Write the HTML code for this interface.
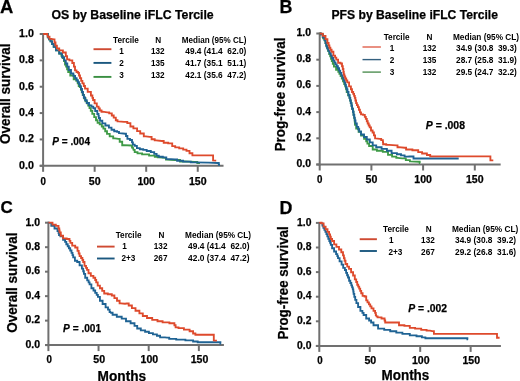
<!DOCTYPE html>
<html><head><meta charset="utf-8"><style>
html,body{margin:0;padding:0;background:#fff;}
body{width:520px;height:381px;overflow:hidden;}
svg{display:block;filter:blur(0.3px);}
</style></head><body>
<svg width="520" height="381" viewBox="0 0 520 381">
<g font-family='"Liberation Sans", sans-serif' fill="#000" stroke="#000" stroke-width="0.25">
<text x="-0.10" y="12.60" font-size="18" font-weight="bold" textLength="13.3" lengthAdjust="spacingAndGlyphs">A</text>
<text x="279.40" y="12.80" font-size="17.8" font-weight="bold" textLength="12.9" lengthAdjust="spacingAndGlyphs">B</text>
<text x="0.50" y="213.30" font-size="17" font-weight="bold">C</text>
<text x="279.40" y="213.60" font-size="17.8" font-weight="bold" textLength="12.9" lengthAdjust="spacingAndGlyphs">D</text>
<text x="51.40" y="18.50" font-size="12" font-weight="bold" textLength="162.3" lengthAdjust="spacingAndGlyphs">OS by Baseline iFLC Tercile</text>
<text x="331.50" y="18.50" font-size="12" font-weight="bold" textLength="166.5" lengthAdjust="spacingAndGlyphs">PFS by Baseline iFLC Tercile</text>
<line x1="43.10" y1="33.00" x2="43.10" y2="166.80" stroke="#707070" stroke-width="2.0"/>
<line x1="39.70" y1="165.80" x2="223.52" y2="165.80" stroke="#707070" stroke-width="2.0"/>
<line x1="39.70" y1="165.80" x2="43.10" y2="165.80" stroke="#707070" stroke-width="2.0"/>
<text x="19.10" y="168.60" font-size="10" font-weight="bold" textLength="14.8" lengthAdjust="spacingAndGlyphs">0.0</text>
<line x1="39.70" y1="139.44" x2="43.10" y2="139.44" stroke="#707070" stroke-width="2.0"/>
<text x="19.10" y="142.24" font-size="10" font-weight="bold" textLength="14.8" lengthAdjust="spacingAndGlyphs">0.2</text>
<line x1="39.70" y1="113.08" x2="43.10" y2="113.08" stroke="#707070" stroke-width="2.0"/>
<text x="19.10" y="115.88" font-size="10" font-weight="bold" textLength="14.8" lengthAdjust="spacingAndGlyphs">0.4</text>
<line x1="39.70" y1="86.72" x2="43.10" y2="86.72" stroke="#707070" stroke-width="2.0"/>
<text x="19.10" y="89.52" font-size="10" font-weight="bold" textLength="14.8" lengthAdjust="spacingAndGlyphs">0.6</text>
<line x1="39.70" y1="60.36" x2="43.10" y2="60.36" stroke="#707070" stroke-width="2.0"/>
<text x="19.10" y="63.16" font-size="10" font-weight="bold" textLength="14.8" lengthAdjust="spacingAndGlyphs">0.8</text>
<line x1="39.70" y1="34.00" x2="43.10" y2="34.00" stroke="#707070" stroke-width="2.0"/>
<text x="19.10" y="36.80" font-size="10" font-weight="bold" textLength="14.8" lengthAdjust="spacingAndGlyphs">1.0</text>
<line x1="43.10" y1="165.80" x2="43.10" y2="171.80" stroke="#707070" stroke-width="2.0"/>
<text x="40.40" y="184.60" font-size="10" font-weight="bold" textLength="5.4" lengthAdjust="spacingAndGlyphs">0</text>
<line x1="94.65" y1="165.80" x2="94.65" y2="171.80" stroke="#707070" stroke-width="2.0"/>
<text x="88.75" y="184.60" font-size="10" font-weight="bold" textLength="11.8" lengthAdjust="spacingAndGlyphs">50</text>
<line x1="146.20" y1="165.80" x2="146.20" y2="171.80" stroke="#707070" stroke-width="2.0"/>
<text x="137.40" y="184.60" font-size="10" font-weight="bold" textLength="17.6" lengthAdjust="spacingAndGlyphs">100</text>
<line x1="197.75" y1="165.80" x2="197.75" y2="171.80" stroke="#707070" stroke-width="2.0"/>
<text x="188.95" y="184.60" font-size="10" font-weight="bold" textLength="17.6" lengthAdjust="spacingAndGlyphs">150</text>
<line x1="319.70" y1="32.50" x2="319.70" y2="165.50" stroke="#707070" stroke-width="2.0"/>
<line x1="316.30" y1="164.50" x2="500.65" y2="164.50" stroke="#707070" stroke-width="2.0"/>
<line x1="316.30" y1="164.50" x2="319.70" y2="164.50" stroke="#707070" stroke-width="2.0"/>
<text x="296.50" y="166.90" font-size="10" font-weight="bold" textLength="14.5" lengthAdjust="spacingAndGlyphs">0.0</text>
<line x1="316.30" y1="138.30" x2="319.70" y2="138.30" stroke="#707070" stroke-width="2.0"/>
<text x="296.50" y="140.70" font-size="10" font-weight="bold" textLength="14.5" lengthAdjust="spacingAndGlyphs">0.2</text>
<line x1="316.30" y1="112.10" x2="319.70" y2="112.10" stroke="#707070" stroke-width="2.0"/>
<text x="296.50" y="114.50" font-size="10" font-weight="bold" textLength="14.5" lengthAdjust="spacingAndGlyphs">0.4</text>
<line x1="316.30" y1="85.90" x2="319.70" y2="85.90" stroke="#707070" stroke-width="2.0"/>
<text x="296.50" y="88.30" font-size="10" font-weight="bold" textLength="14.5" lengthAdjust="spacingAndGlyphs">0.6</text>
<line x1="316.30" y1="59.70" x2="319.70" y2="59.70" stroke="#707070" stroke-width="2.0"/>
<text x="296.50" y="62.10" font-size="10" font-weight="bold" textLength="14.5" lengthAdjust="spacingAndGlyphs">0.8</text>
<line x1="316.30" y1="33.50" x2="319.70" y2="33.50" stroke="#707070" stroke-width="2.0"/>
<text x="296.50" y="35.90" font-size="10" font-weight="bold" textLength="14.5" lengthAdjust="spacingAndGlyphs">1.0</text>
<line x1="319.70" y1="164.50" x2="319.70" y2="170.50" stroke="#707070" stroke-width="2.0"/>
<text x="317.00" y="183.00" font-size="10" font-weight="bold" textLength="5.4" lengthAdjust="spacingAndGlyphs">0</text>
<line x1="371.40" y1="164.50" x2="371.40" y2="170.50" stroke="#707070" stroke-width="2.0"/>
<text x="365.50" y="183.00" font-size="10" font-weight="bold" textLength="11.8" lengthAdjust="spacingAndGlyphs">50</text>
<line x1="423.10" y1="164.50" x2="423.10" y2="170.50" stroke="#707070" stroke-width="2.0"/>
<text x="414.30" y="183.00" font-size="10" font-weight="bold" textLength="17.6" lengthAdjust="spacingAndGlyphs">100</text>
<line x1="474.80" y1="164.50" x2="474.80" y2="170.50" stroke="#707070" stroke-width="2.0"/>
<text x="466.00" y="183.00" font-size="10" font-weight="bold" textLength="17.6" lengthAdjust="spacingAndGlyphs">150</text>
<line x1="48.40" y1="221.70" x2="48.40" y2="346.10" stroke="#707070" stroke-width="2.0"/>
<line x1="45.00" y1="345.10" x2="223.92" y2="345.10" stroke="#707070" stroke-width="2.0"/>
<line x1="45.00" y1="345.10" x2="48.40" y2="345.10" stroke="#707070" stroke-width="2.0"/>
<text x="25.50" y="347.90" font-size="10" font-weight="bold" textLength="14.6" lengthAdjust="spacingAndGlyphs">0.0</text>
<line x1="45.00" y1="320.62" x2="48.40" y2="320.62" stroke="#707070" stroke-width="2.0"/>
<text x="25.50" y="323.42" font-size="10" font-weight="bold" textLength="14.6" lengthAdjust="spacingAndGlyphs">0.2</text>
<line x1="45.00" y1="296.14" x2="48.40" y2="296.14" stroke="#707070" stroke-width="2.0"/>
<text x="25.50" y="298.94" font-size="10" font-weight="bold" textLength="14.6" lengthAdjust="spacingAndGlyphs">0.4</text>
<line x1="45.00" y1="271.66" x2="48.40" y2="271.66" stroke="#707070" stroke-width="2.0"/>
<text x="25.50" y="274.46" font-size="10" font-weight="bold" textLength="14.6" lengthAdjust="spacingAndGlyphs">0.6</text>
<line x1="45.00" y1="247.18" x2="48.40" y2="247.18" stroke="#707070" stroke-width="2.0"/>
<text x="25.50" y="249.98" font-size="10" font-weight="bold" textLength="14.6" lengthAdjust="spacingAndGlyphs">0.8</text>
<line x1="45.00" y1="222.70" x2="48.40" y2="222.70" stroke="#707070" stroke-width="2.0"/>
<text x="25.50" y="225.50" font-size="10" font-weight="bold" textLength="14.6" lengthAdjust="spacingAndGlyphs">1.0</text>
<line x1="48.40" y1="345.10" x2="48.40" y2="351.10" stroke="#707070" stroke-width="2.0"/>
<text x="46.40" y="363.20" font-size="10" font-weight="bold" textLength="5.4" lengthAdjust="spacingAndGlyphs">0</text>
<line x1="98.55" y1="345.10" x2="98.55" y2="351.10" stroke="#707070" stroke-width="2.0"/>
<text x="93.35" y="363.20" font-size="10" font-weight="bold" textLength="11.8" lengthAdjust="spacingAndGlyphs">50</text>
<line x1="148.70" y1="345.10" x2="148.70" y2="351.10" stroke="#707070" stroke-width="2.0"/>
<text x="140.60" y="363.20" font-size="10" font-weight="bold" textLength="17.6" lengthAdjust="spacingAndGlyphs">100</text>
<line x1="198.85" y1="345.10" x2="198.85" y2="351.10" stroke="#707070" stroke-width="2.0"/>
<text x="190.75" y="363.20" font-size="10" font-weight="bold" textLength="17.6" lengthAdjust="spacingAndGlyphs">150</text>
<line x1="319.30" y1="221.90" x2="319.30" y2="346.90" stroke="#707070" stroke-width="2.0"/>
<line x1="315.90" y1="345.90" x2="500.92" y2="345.90" stroke="#707070" stroke-width="2.0"/>
<line x1="315.90" y1="345.90" x2="319.30" y2="345.90" stroke="#707070" stroke-width="2.0"/>
<text x="297.10" y="348.50" font-size="10" font-weight="bold" textLength="14.4" lengthAdjust="spacingAndGlyphs">0.0</text>
<line x1="315.90" y1="321.30" x2="319.30" y2="321.30" stroke="#707070" stroke-width="2.0"/>
<text x="297.10" y="323.90" font-size="10" font-weight="bold" textLength="14.4" lengthAdjust="spacingAndGlyphs">0.2</text>
<line x1="315.90" y1="296.70" x2="319.30" y2="296.70" stroke="#707070" stroke-width="2.0"/>
<text x="297.10" y="299.30" font-size="10" font-weight="bold" textLength="14.4" lengthAdjust="spacingAndGlyphs">0.4</text>
<line x1="315.90" y1="272.10" x2="319.30" y2="272.10" stroke="#707070" stroke-width="2.0"/>
<text x="297.10" y="274.70" font-size="10" font-weight="bold" textLength="14.4" lengthAdjust="spacingAndGlyphs">0.6</text>
<line x1="315.90" y1="247.50" x2="319.30" y2="247.50" stroke="#707070" stroke-width="2.0"/>
<text x="297.10" y="250.10" font-size="10" font-weight="bold" textLength="14.4" lengthAdjust="spacingAndGlyphs">0.8</text>
<line x1="315.90" y1="222.90" x2="319.30" y2="222.90" stroke="#707070" stroke-width="2.0"/>
<text x="297.10" y="225.50" font-size="10" font-weight="bold" textLength="14.4" lengthAdjust="spacingAndGlyphs">1.0</text>
<line x1="319.30" y1="345.90" x2="319.30" y2="351.90" stroke="#707070" stroke-width="2.0"/>
<text x="317.20" y="363.50" font-size="10" font-weight="bold" textLength="5.4" lengthAdjust="spacingAndGlyphs">0</text>
<line x1="369.75" y1="345.90" x2="369.75" y2="351.90" stroke="#707070" stroke-width="2.0"/>
<text x="364.45" y="363.50" font-size="10" font-weight="bold" textLength="11.8" lengthAdjust="spacingAndGlyphs">50</text>
<line x1="420.20" y1="345.90" x2="420.20" y2="351.90" stroke="#707070" stroke-width="2.0"/>
<text x="412.00" y="363.50" font-size="10" font-weight="bold" textLength="17.6" lengthAdjust="spacingAndGlyphs">100</text>
<line x1="470.65" y1="345.90" x2="470.65" y2="351.90" stroke="#707070" stroke-width="2.0"/>
<text x="462.45" y="363.50" font-size="10" font-weight="bold" textLength="17.6" lengthAdjust="spacingAndGlyphs">150</text>
<text transform="translate(10.1,144.0) rotate(-90)" font-size="14" font-weight="bold" textLength="100.4" lengthAdjust="spacingAndGlyphs">Overall survival</text>
<text transform="translate(285.4,151.3) rotate(-90)" font-size="14" font-weight="bold" textLength="113.7" lengthAdjust="spacingAndGlyphs">Prog-free survival</text>
<text transform="translate(17.2,332.8) rotate(-90)" font-size="14" font-weight="bold" textLength="100.2" lengthAdjust="spacingAndGlyphs">Overall survival</text>
<text transform="translate(287.6,339.6) rotate(-90)" font-size="14" font-weight="bold" textLength="113.3" lengthAdjust="spacingAndGlyphs">Prog-free survival</text>
<text x="97.60" y="380.50" font-size="14" font-weight="bold" textLength="48.6" lengthAdjust="spacingAndGlyphs">Months</text>
<text x="381.50" y="380.20" font-size="14" font-weight="bold" textLength="47.8" lengthAdjust="spacingAndGlyphs">Months</text>
<text x="52.3" y="144.6" font-size="10.5" font-weight="bold" textLength="37.7" lengthAdjust="spacingAndGlyphs"><tspan font-style="italic">P</tspan> = .004</text>
<text x="425.8" y="128.7" font-size="10.5" font-weight="bold" textLength="39.2" lengthAdjust="spacingAndGlyphs"><tspan font-style="italic">P</tspan> = .008</text>
<text x="63.1" y="331.7" font-size="10.5" font-weight="bold" textLength="38.0" lengthAdjust="spacingAndGlyphs"><tspan font-style="italic">P</tspan> = .001</text>
<text x="408.3" y="312.1" font-size="10.5" font-weight="bold" textLength="38.8" lengthAdjust="spacingAndGlyphs"><tspan font-style="italic">P</tspan> = .002</text>
<text x="113.00" y="42.70" font-size="8.2" font-weight="bold" stroke="none">Tercile</text>
<text x="155.30" y="42.70" font-size="8.2" font-weight="bold" stroke="none">N</text>
<text x="181.80" y="42.70" font-size="8.2" font-weight="bold" textLength="64.6" lengthAdjust="spacingAndGlyphs" stroke="none">Median (95% CL)</text>
<text x="119.20" y="54.30" font-size="8.2" font-weight="bold" stroke="none">1</text>
<text x="151.00" y="54.30" font-size="8.2" font-weight="bold" stroke="none">132</text>
<text x="185.30" y="54.30" font-size="8.2" font-weight="bold" textLength="61.0" lengthAdjust="spacingAndGlyphs" stroke="none">49.4 (41.4&#160; 62.0)</text>
<text x="119.20" y="66.00" font-size="8.2" font-weight="bold" stroke="none">2</text>
<text x="151.00" y="66.00" font-size="8.2" font-weight="bold" stroke="none">135</text>
<text x="185.30" y="66.00" font-size="8.2" font-weight="bold" textLength="61.0" lengthAdjust="spacingAndGlyphs" stroke="none">41.7 (35.1&#160; 51.1)</text>
<text x="119.20" y="77.70" font-size="8.2" font-weight="bold" stroke="none">3</text>
<text x="151.00" y="77.70" font-size="8.2" font-weight="bold" stroke="none">132</text>
<text x="185.30" y="77.70" font-size="8.2" font-weight="bold" textLength="61.0" lengthAdjust="spacingAndGlyphs" stroke="none">42.1 (35.6&#160; 47.2)</text>
<line x1="93.50" y1="49.20" x2="111.40" y2="49.20" stroke="#cf4a32" stroke-width="1.9"/>
<line x1="93.50" y1="62.90" x2="111.40" y2="62.90" stroke="#1b587f" stroke-width="1.9"/>
<line x1="93.50" y1="76.90" x2="111.40" y2="76.90" stroke="#3a8f42" stroke-width="1.9"/>
<text x="383.70" y="39.50" font-size="8.2" font-weight="bold" stroke="none">Tercile</text>
<text x="426.40" y="39.50" font-size="8.2" font-weight="bold" stroke="none">N</text>
<text x="453.00" y="39.50" font-size="8.2" font-weight="bold" textLength="66.0" lengthAdjust="spacingAndGlyphs" stroke="none">Median (95% CL)</text>
<text x="389.80" y="51.30" font-size="8.2" font-weight="bold" stroke="none">1</text>
<text x="422.70" y="51.30" font-size="8.2" font-weight="bold" stroke="none">132</text>
<text x="456.10" y="51.30" font-size="8.2" font-weight="bold" textLength="60.8" lengthAdjust="spacingAndGlyphs" stroke="none">34.9 (30.8&#160; 39.3)</text>
<text x="389.80" y="62.90" font-size="8.2" font-weight="bold" stroke="none">2</text>
<text x="422.70" y="62.90" font-size="8.2" font-weight="bold" stroke="none">135</text>
<text x="456.10" y="62.90" font-size="8.2" font-weight="bold" textLength="60.8" lengthAdjust="spacingAndGlyphs" stroke="none">28.7 (25.8&#160; 31.9)</text>
<text x="389.80" y="74.60" font-size="8.2" font-weight="bold" stroke="none">3</text>
<text x="422.70" y="74.60" font-size="8.2" font-weight="bold" stroke="none">132</text>
<text x="456.10" y="74.60" font-size="8.2" font-weight="bold" textLength="60.8" lengthAdjust="spacingAndGlyphs" stroke="none">29.5 (24.7&#160; 32.2)</text>
<line x1="362.50" y1="47.00" x2="380.90" y2="47.00" stroke="#e0604c" stroke-width="1.4"/>
<line x1="362.50" y1="59.60" x2="380.90" y2="59.60" stroke="#34607f" stroke-width="1.4"/>
<line x1="362.50" y1="72.10" x2="380.90" y2="72.10" stroke="#4f8f52" stroke-width="1.4"/>
<text x="115.70" y="237.70" font-size="8.2" font-weight="bold" stroke="none">Tercile</text>
<text x="158.40" y="237.70" font-size="8.2" font-weight="bold" stroke="none">N</text>
<text x="185.10" y="237.70" font-size="8.2" font-weight="bold" textLength="66.0" lengthAdjust="spacingAndGlyphs" stroke="none">Median (95% CL)</text>
<text x="122.30" y="249.20" font-size="8.2" font-weight="bold" stroke="none">1</text>
<text x="153.80" y="249.20" font-size="8.2" font-weight="bold" stroke="none">132</text>
<text x="188.10" y="249.20" font-size="8.2" font-weight="bold" textLength="61.4" lengthAdjust="spacingAndGlyphs" stroke="none">49.4 (41.4&#160; 62.0)</text>
<text x="121.40" y="261.10" font-size="8.2" font-weight="bold" stroke="none">2+3</text>
<text x="153.80" y="261.10" font-size="8.2" font-weight="bold" stroke="none">267</text>
<text x="188.10" y="261.10" font-size="8.2" font-weight="bold" textLength="61.4" lengthAdjust="spacingAndGlyphs" stroke="none">42.0 (37.4&#160; 47.2)</text>
<line x1="97.00" y1="246.60" x2="114.60" y2="246.60" stroke="#cf4a32" stroke-width="1.9"/>
<line x1="97.00" y1="258.50" x2="114.60" y2="258.50" stroke="#1b587f" stroke-width="1.9"/>
<text x="383.00" y="232.00" font-size="8.2" font-weight="bold" stroke="none">Tercile</text>
<text x="425.70" y="232.00" font-size="8.2" font-weight="bold" stroke="none">N</text>
<text x="451.90" y="232.00" font-size="8.2" font-weight="bold" textLength="66.5" lengthAdjust="spacingAndGlyphs" stroke="none">Median (95% CL)</text>
<text x="389.10" y="243.20" font-size="8.2" font-weight="bold" stroke="none">1</text>
<text x="421.10" y="243.20" font-size="8.2" font-weight="bold" stroke="none">132</text>
<text x="455.00" y="243.20" font-size="8.2" font-weight="bold" textLength="61.1" lengthAdjust="spacingAndGlyphs" stroke="none">34.9 (30.8&#160; 39.2)</text>
<text x="388.40" y="254.60" font-size="8.2" font-weight="bold" stroke="none">2+3</text>
<text x="421.10" y="254.60" font-size="8.2" font-weight="bold" stroke="none">267</text>
<text x="455.00" y="254.60" font-size="8.2" font-weight="bold" textLength="61.1" lengthAdjust="spacingAndGlyphs" stroke="none">29.2 (26.8&#160; 31.6)</text>
<line x1="359.70" y1="239.20" x2="376.90" y2="239.20" stroke="#cf4a32" stroke-width="1.9"/>
<line x1="359.70" y1="251.00" x2="376.90" y2="251.00" stroke="#1b587f" stroke-width="1.9"/>
<polyline points="43.1,34.0 47.3,34.0 47.8,34.0 47.8,37.2 48.2,37.2 49.0,37.2 49.0,39.3 50.5,39.3 50.5,41.4 51.3,41.4 52.1,41.4 52.1,44.0 53.7,44.0 53.7,46.7 54.5,46.7 56.0,46.7 56.0,50.4 57.6,50.4 59.2,50.4 59.2,53.5 60.8,53.5 61.4,53.5 61.4,55.8 62.8,55.8 62.8,58.0 63.4,58.0 64.0,58.0 64.0,61.0 64.5,61.0 65.0,61.0 65.0,64.5 65.6,64.5 66.1,64.5 66.1,66.6 66.6,66.6 67.1,66.6 67.1,69.3 68.2,69.3 68.2,72.0 68.7,72.0 70.3,72.0 70.3,75.5 72.0,75.5 73.7,75.5 73.7,79.2 75.4,79.2 76.3,79.2 76.3,80.7 77.2,80.7 77.7,80.7 77.7,83.3 78.7,83.3 78.7,86.0 79.2,86.0 79.8,86.0 79.8,87.1 80.4,87.1 80.9,87.1 80.9,89.7 81.8,89.7 81.8,92.4 82.7,92.4 82.7,95.0 83.2,95.0 84.0,95.0 84.0,98.2 85.5,98.2 85.5,101.3 86.3,101.3 87.0,101.3 87.0,103.4 88.2,103.4 88.2,105.5 88.9,105.5 89.5,105.5 89.5,108.1 90.0,108.1 90.8,108.1 90.8,110.8 91.6,110.8 92.3,110.8 92.3,113.9 93.1,113.9 94.2,113.9 94.2,117.1 95.2,117.1 96.0,117.1 96.0,120.2 96.8,120.2 97.6,120.2 97.6,122.8 98.4,122.8 99.7,122.8 99.7,124.4 101.0,124.4 101.8,124.4 101.8,126.5 102.6,126.5 103.4,126.5 103.4,128.6 104.2,128.6 105.2,128.6 105.2,131.2 106.3,131.2 107.0,131.2 107.0,133.9 107.8,133.9 109.7,133.9 109.7,136.3 111.5,136.3 113.2,136.3 113.2,138.3 115.0,138.3 118.5,138.8 119.7,138.8 119.7,141.7 120.8,141.7 122.2,141.7 122.2,145.2 123.7,145.2 131.1,145.5 132.0,145.5 132.0,147.5 132.9,147.5 133.5,149.8 134.7,149.8 134.7,152.1 135.8,152.1 137.5,152.1 137.5,153.3 139.2,153.3 142.1,153.3 142.1,154.4 145.0,154.4 149.1,154.4 149.1,155.6 153.1,155.6 154.8,155.6 154.8,156.7 156.5,156.7 157.7,156.7 157.7,157.3 158.8,157.3 165.7,157.9 166.0,157.9 166.0,159.6 166.3,159.6 175.0,160.0 180.0,160.0 180.0,161.5 185.0,161.5 194.6,161.9 197.3,161.9 197.3,163.0 200.0,163.0" fill="none" stroke="#3e9a46" stroke-width="1.85" stroke-linejoin="miter"/>
<polyline points="43.1,34.0 47.3,34.0 47.8,34.0 47.8,37.2 48.2,37.2 49.0,37.2 49.0,39.3 50.5,39.3 50.5,41.4 51.3,41.4 52.1,41.4 52.1,44.0 53.7,44.0 53.7,46.7 54.5,46.7 56.0,46.7 56.0,50.4 57.6,50.4 59.2,50.4 59.2,53.5 60.8,53.5 62.1,53.5 62.1,57.2 63.4,57.2 64.2,57.2 64.2,60.3 65.0,60.3 65.8,60.3 65.8,63.5 66.6,63.5 67.3,63.5 67.3,66.6 68.1,66.6 68.8,66.6 68.8,70.0 69.5,70.0 71.0,70.0 71.0,73.5 72.6,73.5 73.4,73.5 73.4,75.8 75.1,75.8 75.1,78.1 75.9,78.1 76.6,78.1 76.6,80.1 77.8,80.1 77.8,82.1 78.5,82.1 79.0,82.1 79.0,84.1 79.9,84.1 79.9,86.1 80.4,86.1 80.9,86.1 80.9,89.0 82.0,89.0 82.0,92.0 82.5,92.0 83.0,92.0 83.0,94.8 83.8,94.8 83.8,97.5 84.3,97.5 85.1,97.5 85.1,100.2 86.7,100.2 86.7,103.0 87.5,103.0 89.0,103.0 89.0,105.4 90.5,105.4 91.5,105.4 91.5,106.6 92.6,106.6 93.3,106.6 93.3,108.2 94.0,108.2 95.2,108.2 95.2,111.0 96.3,111.0 97.3,111.0 97.3,114.0 98.3,114.0 98.5,114.0 98.5,116.0 98.8,116.0 98.8,118.0 99.0,118.0 100.0,118.0 100.0,120.7 101.0,120.7 102.3,120.7 102.3,123.4 103.6,123.4 105.4,123.4 105.4,125.5 107.3,125.5 108.9,125.5 108.9,127.6 110.5,127.6 111.5,127.6 111.5,129.7 112.6,129.7 114.2,129.7 114.2,131.2 115.7,131.2 117.1,131.2 117.1,131.9 118.5,131.9 119.0,131.9 119.0,133.1 119.6,133.1 125.4,133.7 126.0,133.7 126.0,136.0 126.5,136.0 127.4,136.0 127.4,138.8 128.3,138.8 130.0,138.8 130.0,140.0 131.7,140.0 132.0,140.0 132.0,142.3 132.3,142.3 132.9,142.3 132.9,144.6 133.5,144.6 134.7,144.6 134.7,145.8 135.8,145.8 136.9,145.8 136.9,148.1 138.1,148.1 139.8,148.1 139.8,149.2 141.5,149.2 143.2,149.2 143.2,149.8 145.0,149.8 146.7,149.8 146.7,151.0 148.4,151.0 150.8,151.0 150.8,152.1 153.1,152.1 154.2,152.1 154.2,153.8 155.4,153.8 156.6,153.8 156.6,155.6 157.7,155.6 158.8,155.6 158.8,156.7 160.0,156.7 162.8,156.7 162.8,157.3 165.7,157.3 166.3,157.3 166.3,159.0 166.9,159.0 175.0,159.4 177.1,159.4 177.1,160.7 179.2,160.7 183.1,160.7 183.1,161.6 186.9,161.6 190.8,161.6 190.8,162.4 194.6,162.4 208.5,162.7 217.7,163.0 218.8,163.0 218.8,164.7 220.0,164.7" fill="none" stroke="#1f6394" stroke-width="1.85" stroke-linejoin="miter"/>
<polyline points="43.1,34.0 47.3,34.0 47.8,36.7 49.5,36.7 49.5,38.8 51.3,38.8 54.0,39.3 54.5,39.3 54.5,42.5 55.0,42.5 55.5,42.5 55.5,45.6 56.1,45.6 56.9,45.6 56.9,48.3 57.6,48.3 59.2,48.3 59.2,50.4 60.8,50.4 62.9,50.4 62.9,52.5 65.0,52.5 65.8,52.5 65.8,56.1 66.6,56.1 67.1,56.1 67.1,59.3 67.6,59.3 69.4,59.3 69.4,60.3 71.3,60.3 72.3,60.3 72.3,63.0 73.4,63.0 73.9,63.0 73.9,66.6 74.4,66.6 75.0,66.6 75.0,70.3 75.5,70.3 76.5,70.3 76.5,72.0 77.6,72.0 78.0,72.0 78.0,72.9 78.5,72.9 79.0,72.9 79.0,75.5 80.0,75.5 80.0,78.1 80.5,78.1 81.2,78.1 81.2,80.8 82.4,80.8 82.4,83.4 83.1,83.4 83.8,83.4 83.8,86.0 85.0,86.0 85.0,88.6 85.7,88.6 87.7,88.6 87.7,91.9 89.7,91.9 90.9,91.9 90.9,95.5 92.1,95.5 92.4,95.5 92.4,97.8 93.1,97.8 93.1,100.0 93.4,100.0 94.6,100.0 94.6,103.4 95.8,103.4 96.8,103.4 96.8,106.6 97.9,106.6 98.6,106.6 98.6,108.5 99.8,108.5 99.8,110.5 100.5,110.5 101.5,110.5 101.5,111.7 102.5,111.7 107.3,112.3 109.2,112.3 109.2,113.4 111.0,113.4 111.8,113.4 111.8,115.5 112.6,115.5 113.7,115.5 113.7,117.6 114.7,117.6 115.8,117.6 115.8,120.2 116.8,120.2 117.5,120.2 117.5,121.3 118.3,121.3 124.1,121.8 125.0,121.9 127.3,121.9 127.3,123.1 129.6,123.1 130.4,123.1 130.4,126.5 131.3,126.5 133.4,126.5 133.4,128.3 135.4,128.3 137.1,128.3 137.1,131.1 138.8,131.1 140.2,131.1 140.2,133.5 141.7,133.5 143.8,133.5 143.8,136.3 145.8,136.3 149.8,136.9 151.6,136.9 151.6,139.2 153.3,139.2 154.7,139.2 154.7,140.4 156.1,140.4 161.9,141.0 163.7,141.0 163.7,142.7 165.4,142.7 168.2,142.7 168.2,143.3 171.1,143.3 172.2,143.3 172.2,146.1 173.4,146.1 175.2,146.1 175.2,147.3 176.9,147.3 179.2,147.3 179.2,148.4 181.5,148.4 183.2,148.4 183.2,149.6 185.0,149.6 186.5,149.6 186.5,150.9 188.0,150.9 189.5,150.9 189.5,153.2 191.0,153.2 192.4,153.2 192.4,155.4 193.8,155.4 213.1,155.4 213.1,160.4 216.2,160.7" fill="none" stroke="#de4a2c" stroke-width="1.85" stroke-linejoin="miter"/>
<polyline points="319.7,33.5 320.8,33.5 320.8,34.4 321.9,34.4 323.1,34.4 323.1,38.3 324.3,38.3 324.7,38.3 324.7,40.6 325.5,40.6 325.5,43.0 326.2,43.0 326.2,45.4 327.0,45.4 327.0,47.7 327.4,47.7 328.0,47.7 328.0,50.9 329.2,50.9 329.2,54.0 329.8,54.0 330.2,54.0 330.2,56.4 331.0,56.4 331.0,58.7 331.8,58.7 331.8,61.1 332.2,61.1 332.8,61.1 332.8,63.8 333.9,63.8 333.9,66.6 334.5,66.6 336.1,66.6 336.1,69.8 337.7,69.8 338.3,69.8 338.3,71.8 339.4,71.8 339.4,73.7 340.0,73.7 340.6,73.7 340.6,76.1 341.8,76.1 341.8,78.5 342.4,78.5 343.0,78.5 343.0,81.2 344.2,81.2 344.2,84.0 344.8,84.0 345.2,84.0 345.2,86.3 345.9,86.3 345.9,88.7 346.3,88.7 346.7,88.7 346.7,92.0 347.1,92.0 348.1,92.0 348.1,95.2 349.2,95.2 349.5,95.2 349.5,97.8 350.2,97.8 350.2,100.5 350.5,100.5 350.8,100.5 350.8,103.1 351.5,103.1 351.5,105.7 351.8,105.7 352.1,105.7 352.1,108.7 352.9,108.7 352.9,111.7 353.2,111.7 353.5,111.7 353.5,114.8 354.2,114.8 354.2,118.0 354.5,118.0 355.0,124.7 356.2,124.7 356.2,128.5 357.5,128.5 358.6,128.5 358.6,131.8 359.7,131.8 361.1,131.8 361.1,135.5 362.5,135.5 364.1,135.5 364.1,138.9 365.6,138.9 366.2,138.9 366.2,141.2 367.4,141.2 367.4,143.6 368.0,143.6 369.1,143.6 369.1,146.0 370.3,146.0 372.7,146.0 372.7,149.5 375.1,149.5 376.9,149.5 376.9,150.7 378.6,150.7 382.8,150.7 382.8,151.9 386.9,151.9 388.0,151.9 388.0,154.8 389.2,154.8 392.1,154.8 392.1,156.6 395.1,156.6 396.3,156.6 396.3,157.8 397.5,157.8 402.2,158.4 405.8,158.4 405.8,160.1 409.3,160.1 409.9,160.1 409.9,161.3 410.5,161.3 419.2,161.7 419.7,161.7 419.7,163.1 420.2,163.1" fill="none" stroke="#3e9a46" stroke-width="1.85" stroke-linejoin="miter"/>
<polyline points="319.7,33.5 320.8,33.5 320.8,34.4 321.9,34.4 322.7,34.4 322.7,37.1 324.3,37.1 324.3,39.9 325.1,39.9 325.5,39.9 325.5,43.0 326.3,43.0 326.3,46.2 326.7,46.2 327.3,46.2 327.3,48.5 328.4,48.5 328.4,50.9 329.0,50.9 329.6,50.9 329.6,53.2 330.8,53.2 330.8,55.6 331.4,55.6 332.0,55.6 332.0,58.0 333.1,58.0 333.1,60.3 333.7,60.3 334.3,60.3 334.3,62.3 335.5,62.3 335.5,64.3 336.1,64.3 336.7,64.3 336.7,66.2 337.9,66.2 337.9,68.2 338.5,68.2 339.1,68.2 339.1,70.6 340.2,70.6 340.2,72.9 340.8,72.9 341.4,72.9 341.4,75.3 342.6,75.3 342.6,77.7 343.2,77.7 343.6,77.7 343.6,80.1 344.4,80.1 344.4,82.4 344.8,82.4 345.2,82.4 345.2,84.8 345.9,84.8 345.9,87.1 346.3,87.1 346.7,87.1 346.7,89.5 347.5,89.5 347.5,92.0 347.9,92.0 348.5,92.0 348.5,95.2 349.2,95.2 349.5,95.2 349.5,97.8 350.2,97.8 350.2,100.5 350.5,100.5 350.8,100.5 350.8,103.1 351.5,103.1 351.5,105.7 351.8,105.7 352.1,105.7 352.1,108.7 352.9,108.7 352.9,111.7 353.2,111.7 353.5,111.7 353.5,114.7 354.2,114.7 354.2,117.6 354.5,117.6 354.8,117.6 354.8,120.5 355.5,120.5 355.5,123.5 355.8,123.5 356.8,123.5 356.8,126.9 357.7,126.9 358.2,126.9 358.2,129.2 359.2,129.2 359.2,131.5 359.7,131.5 361.0,131.5 361.0,134.5 362.3,134.5 364.0,134.5 364.0,137.0 365.6,137.0 366.8,137.0 366.8,139.5 368.0,139.5 369.8,139.5 369.8,142.4 371.5,142.4 372.7,142.4 372.7,145.4 373.9,145.4 376.2,145.4 376.2,147.2 378.6,147.2 381.6,147.2 381.6,148.9 384.5,148.9 386.9,148.9 386.9,150.7 389.2,150.7 391.6,150.7 391.6,153.1 394.0,153.1 396.9,153.1 396.9,154.2 399.9,154.2 401.0,154.2 401.0,155.4 402.2,155.4 404.6,155.4 404.6,156.6 407.0,156.6 409.6,156.5 413.5,156.5 413.5,158.5 417.3,158.5 458.7,158.5" fill="none" stroke="#1f6394" stroke-width="1.85" stroke-linejoin="miter"/>
<polyline points="319.7,33.5 321.1,33.6 322.7,33.6 322.7,35.9 324.3,35.9 325.5,35.9 325.5,39.1 326.7,39.1 327.4,39.1 327.4,43.0 328.2,43.0 328.6,43.0 328.6,45.4 329.4,45.4 329.4,47.7 329.8,47.7 330.4,47.7 330.4,49.7 331.6,49.7 331.6,51.7 332.2,51.7 333.4,51.7 333.4,55.6 334.5,55.6 335.1,55.6 335.1,57.6 336.3,57.6 336.3,59.6 336.9,59.6 338.1,59.6 338.1,62.7 339.3,62.7 340.5,62.7 340.5,63.5 341.6,63.5 342.0,63.5 342.0,66.2 342.8,66.2 342.8,69.0 343.2,69.0 343.4,69.0 343.4,71.8 343.8,71.8 343.8,74.5 344.0,74.5 344.4,74.5 344.4,76.5 345.2,76.5 345.2,78.5 345.6,78.5 346.2,78.5 346.2,80.5 347.3,80.5 347.3,82.4 347.9,82.4 349.1,82.4 349.1,86.3 350.3,86.3 350.9,86.3 350.9,89.2 352.0,89.2 352.0,92.0 352.6,92.0 353.2,92.0 353.2,93.9 353.8,93.9 354.1,93.9 354.1,95.9 354.8,95.9 354.8,97.9 355.1,97.9 355.4,97.9 355.4,100.5 356.1,100.5 356.1,103.1 356.4,103.1 356.9,103.1 356.9,105.1 357.9,105.1 357.9,107.1 358.4,107.1 358.9,107.1 358.9,109.7 359.9,109.7 359.9,112.3 360.4,112.3 361.0,112.3 361.0,114.3 361.7,114.3 363.0,114.3 363.0,114.9 364.3,114.9 364.8,114.9 364.8,116.9 365.8,116.9 365.8,118.9 366.3,118.9 366.8,118.9 366.8,121.2 367.7,121.2 367.7,123.5 368.2,123.5 368.7,123.5 368.7,125.5 369.7,125.5 369.7,127.4 370.2,127.4 371.0,127.4 371.0,130.5 371.8,130.5 372.6,130.5 372.6,132.5 373.3,132.5 373.9,132.5 373.9,135.3 374.5,135.3 375.1,135.3 375.1,138.3 375.7,138.3 379.8,138.9 381.2,138.9 381.2,140.1 382.7,140.1 382.9,140.1 382.9,142.1 383.1,142.1 383.1,144.2 383.3,144.2 386.2,144.2 386.2,144.8 389.2,144.8 396.3,145.4 397.5,145.4 397.5,147.2 398.7,147.2 404.6,147.7 406.1,147.7 406.1,149.5 407.5,149.5 412.4,149.5 412.4,150.2 417.3,150.2 418.2,150.2 418.2,152.1 419.2,152.1 422.1,152.1 422.1,153.5 425.0,153.5 426.9,153.5 426.9,155.0 428.8,155.0 430.2,155.0 430.2,156.3 431.7,156.3 490.4,156.3 490.4,160.4 493.3,160.4" fill="none" stroke="#de4a2c" stroke-width="1.85" stroke-linejoin="miter"/>
<polyline points="48.4,222.7 50.0,222.8 51.3,222.8 51.3,225.9 52.6,225.9 54.5,225.9 54.5,228.5 56.5,228.5 57.5,228.5 57.5,231.1 58.5,231.1 58.6,231.1 58.6,233.1 59.0,233.1 59.0,235.1 59.1,235.1 60.4,235.1 60.4,236.4 61.7,236.4 63.1,236.4 63.1,239.7 64.4,239.7 65.1,239.7 65.1,241.9 66.3,241.9 66.3,244.2 67.0,244.2 67.7,244.2 67.7,246.2 68.9,246.2 68.9,248.2 69.6,248.2 70.2,248.2 70.2,250.5 71.5,250.5 71.5,252.8 72.2,252.8 72.5,252.8 72.5,255.1 73.2,255.1 73.2,257.4 73.6,257.4 74.9,257.4 74.9,260.7 76.2,260.7 77.2,260.7 77.2,262.0 78.3,262.0 79.6,262.0 79.6,265.3 80.9,265.3 81.9,265.3 81.9,268.6 82.9,268.6 83.2,268.6 83.2,271.2 83.9,271.2 83.9,273.8 84.2,273.8 85.2,273.8 85.2,277.7 86.2,277.7 87.2,277.7 87.2,280.4 88.1,280.4 88.6,280.4 88.6,282.4 89.6,282.4 89.6,284.3 90.1,284.3 91.4,284.3 91.4,288.2 92.7,288.2 93.5,288.2 93.5,290.5 95.2,290.5 95.2,292.8 96.0,292.8 96.7,292.8 96.7,294.8 97.9,294.8 97.9,296.8 98.6,296.8 99.9,296.8 99.9,300.7 101.2,300.7 102.6,300.7 102.6,304.0 103.9,304.0 105.6,304.0 105.6,307.3 107.2,307.3 108.0,307.3 108.0,309.6 109.6,309.6 109.6,312.0 110.4,312.0 110.9,312.7 112.6,312.7 112.6,314.7 114.2,314.7 116.8,314.7 116.8,316.7 119.4,316.7 121.7,316.7 121.7,318.6 124.0,318.6 126.0,318.6 126.0,321.2 128.0,321.2 130.6,321.2 130.6,323.2 133.2,323.2 134.5,323.2 134.5,325.8 135.8,325.8 137.2,325.8 137.2,328.5 138.5,328.5 140.8,328.5 140.8,330.4 143.1,330.4 145.1,330.4 145.1,331.7 147.0,331.7 148.9,331.7 148.9,333.1 150.9,333.1 152.9,333.1 152.9,334.4 154.9,334.4 156.9,334.4 156.9,335.7 158.8,335.7 160.1,335.7 160.1,337.3 161.4,337.3 165.0,337.4 166.9,337.6 169.2,337.6 169.2,338.8 171.5,338.8 176.2,338.8 176.2,339.6 180.8,339.6 185.4,339.6 185.4,340.4 190.0,340.4 193.1,340.4 193.1,341.5 196.2,341.5 197.7,341.5 197.7,342.2 199.2,342.2 220.0,342.2 220.4,342.2 220.4,343.8 220.8,343.8" fill="none" stroke="#1f6394" stroke-width="1.85" stroke-linejoin="miter"/>
<polyline points="48.4,222.7 51.2,222.6 52.5,222.6 52.5,224.6 53.9,224.6 55.8,224.6 55.8,225.9 57.8,225.9 58.5,225.9 58.5,228.5 59.1,228.5 59.3,228.5 59.3,230.4 59.6,230.4 59.6,232.4 59.8,232.4 60.8,232.4 60.8,235.7 61.7,235.7 63.1,235.7 63.1,238.3 64.4,238.3 66.7,238.3 66.7,239.0 69.0,239.0 69.5,239.0 69.5,240.9 70.4,240.9 70.4,242.9 70.9,242.9 72.2,242.9 72.2,245.6 73.6,245.6 75.2,245.6 75.2,247.5 76.8,247.5 77.5,247.5 77.5,250.8 78.2,250.8 78.7,250.8 78.7,253.5 79.6,253.5 79.6,256.1 80.1,256.1 81.1,256.1 81.1,258.0 82.1,258.0 82.4,258.0 82.4,260.0 83.2,260.0 83.2,262.0 83.5,262.0 84.5,262.0 84.5,265.9 85.5,265.9 86.0,265.9 86.0,267.9 87.0,267.9 87.0,269.9 87.5,269.9 88.5,269.9 88.5,273.2 89.4,273.2 90.8,273.2 90.8,275.8 92.1,275.8 93.4,275.8 93.4,277.7 94.7,277.7 95.2,277.7 95.2,280.0 96.2,280.0 96.2,282.3 96.7,282.3 97.7,282.3 97.7,285.6 98.6,285.6 99.9,285.6 99.9,288.2 101.2,288.2 102.2,288.2 102.2,290.9 103.2,290.9 104.2,290.9 104.2,293.5 105.2,293.5 107.8,293.5 107.8,294.2 110.4,294.2 111.8,294.2 111.8,295.5 113.1,295.5 114.4,295.5 114.4,298.1 115.7,298.1 117.0,298.1 117.0,300.7 118.3,300.7 119.6,300.7 119.6,303.3 120.9,303.3 125.0,303.7 126.7,303.5 128.7,303.5 128.7,305.5 130.6,305.5 131.9,305.5 131.9,308.1 133.2,308.1 135.5,308.1 135.5,310.7 137.8,310.7 139.4,310.7 139.4,313.4 141.1,313.4 142.8,313.4 142.8,316.0 144.4,316.0 147.0,316.0 147.0,318.0 149.6,318.0 152.2,318.0 152.2,319.9 154.9,319.9 157.5,319.9 157.5,321.2 160.1,321.2 162.6,321.2 162.6,322.4 165.0,322.4 169.4,322.4 169.4,323.2 173.8,323.2 174.4,323.2 174.4,325.2 175.6,325.2 175.6,327.3 176.2,327.3 178.5,327.3 178.5,328.1 180.8,328.1 183.9,328.1 183.9,329.6 186.9,329.6 189.6,329.6 189.6,331.2 192.3,331.2 193.1,331.2 193.1,333.5 193.8,333.5 195.4,333.5 195.4,334.7 196.9,334.7 213.8,334.7 213.8,340.4 216.9,340.7" fill="none" stroke="#de4a2c" stroke-width="1.85" stroke-linejoin="miter"/>
<polyline points="319.3,222.9 321.9,223.3 322.4,223.3 322.4,225.6 323.4,225.6 323.4,227.9 323.9,227.9 324.4,227.9 324.4,229.9 325.4,229.9 325.4,231.8 325.9,231.8 326.4,231.8 326.4,234.1 327.3,234.1 327.3,236.4 327.8,236.4 328.3,236.4 328.3,238.7 329.3,238.7 329.3,241.0 329.8,241.0 330.1,241.0 330.1,242.9 330.8,242.9 330.8,244.9 331.1,244.9 332.1,244.9 332.1,248.2 333.1,248.2 334.1,248.2 334.1,251.5 335.1,251.5 336.1,251.5 336.1,254.1 337.0,254.1 337.3,254.1 337.3,256.1 338.0,256.1 338.0,258.1 338.3,258.1 339.6,258.1 339.6,261.3 341.0,261.3 341.6,261.3 341.6,264.6 342.3,264.6 343.2,264.6 343.2,267.9 344.2,267.9 344.9,267.9 344.9,270.0 345.6,270.0 346.1,270.0 346.1,272.9 346.6,272.9 347.1,272.9 347.1,275.2 348.0,275.2 348.0,277.5 348.5,277.5 349.1,277.5 349.1,280.7 349.8,280.7 350.3,280.7 350.3,283.0 351.3,283.0 351.3,285.3 351.8,285.3 352.1,285.3 352.1,287.3 352.8,287.3 352.8,289.3 353.1,289.3 353.3,289.3 353.3,291.6 353.6,291.6 353.6,293.9 353.8,293.9 354.3,293.9 354.3,296.9 355.2,296.9 355.2,299.8 355.7,299.8 356.4,299.8 356.4,303.1 357.1,303.1 358.1,303.1 358.1,307.0 359.0,307.0 360.4,307.0 360.4,310.9 361.7,310.9 362.4,310.9 362.4,312.9 363.6,312.9 363.6,315.0 364.3,315.0 366.2,315.0 366.2,318.5 368.1,318.5 369.1,318.5 369.1,320.5 371.1,320.5 371.1,322.5 372.1,322.5 373.5,322.5 373.5,325.2 374.8,325.2 378.1,325.2 378.1,328.6 381.5,328.6 384.2,328.6 384.2,329.9 386.9,329.9 390.2,329.9 390.2,331.2 393.6,331.2 396.3,331.2 396.3,332.6 399.0,332.6 402.4,332.6 402.4,333.9 405.8,333.9 409.8,333.9 409.8,335.3 413.8,335.3 416.5,335.3 416.5,336.2 419.2,336.2 421.9,336.2 421.9,337.3 424.6,337.3 425.4,337.3 425.4,338.2 426.1,338.2 466.7,338.2 467.4,338.2 467.4,339.4 468.1,339.4" fill="none" stroke="#1f6394" stroke-width="1.85" stroke-linejoin="miter"/>
<polyline points="319.3,222.9 320.6,222.6 321.6,222.6 321.6,223.3 322.6,223.3 323.6,223.3 323.6,226.6 324.6,226.6 325.6,226.6 325.6,229.2 326.5,229.2 327.5,229.2 327.5,231.8 328.5,231.8 329.1,231.8 329.1,234.4 329.8,234.4 330.1,234.4 330.1,236.7 330.8,236.7 330.8,239.0 331.1,239.0 332.1,239.0 332.1,241.0 333.1,241.0 334.1,241.0 334.1,244.3 335.1,244.3 336.4,244.3 336.4,246.9 337.7,246.9 339.0,246.9 339.0,249.5 340.3,249.5 341.3,249.5 341.3,252.2 342.3,252.2 343.0,252.2 343.0,255.4 343.6,255.4 343.9,255.4 343.9,258.1 344.6,258.1 344.6,260.7 344.9,260.7 345.5,260.7 345.5,264.0 346.2,264.0 347.2,264.0 347.2,266.6 348.2,266.6 349.0,266.6 349.0,268.9 349.8,268.9 351.1,268.9 351.1,272.2 352.5,272.2 353.1,272.2 353.1,275.5 353.8,275.5 354.8,275.5 354.8,279.4 355.7,279.4 356.2,279.4 356.2,282.0 357.2,282.0 357.2,284.7 357.7,284.7 358.2,284.7 358.2,286.6 359.2,286.6 359.2,288.6 359.7,288.6 360.2,288.6 360.2,290.9 361.2,290.9 361.2,293.2 361.7,293.2 362.6,293.2 362.6,295.8 363.6,295.8 364.6,295.8 364.6,296.5 365.6,296.5 366.2,296.5 366.2,300.4 366.9,300.4 367.5,300.4 367.5,302.4 368.9,302.4 368.9,304.4 369.5,304.4 370.2,304.4 370.2,306.4 371.5,306.4 371.5,308.3 372.2,308.3 373.5,308.3 373.5,310.9 374.8,310.9 375.1,310.9 375.1,312.9 375.8,312.9 375.8,315.0 376.1,315.0 376.5,316.4 377.6,316.4 377.6,317.4 378.8,317.4 381.5,317.4 381.5,318.5 384.2,318.5 384.6,318.5 384.6,320.5 385.2,320.5 385.2,322.5 385.6,322.5 397.7,322.5 399.0,322.5 399.0,325.2 400.4,325.2 404.4,325.2 404.4,325.9 408.5,325.9 409.8,325.9 409.8,327.9 411.1,327.9 415.1,327.9 415.1,328.6 419.2,328.6 421.2,328.6 421.2,329.9 423.3,329.9 426.6,329.9 426.6,330.6 430.0,330.6 432.1,331.1 433.9,331.1 433.9,333.9 435.6,333.9 497.0,333.9 497.0,337.7 499.6,337.7" fill="none" stroke="#de4a2c" stroke-width="1.85" stroke-linejoin="miter"/>
</g></svg>
</body></html>
